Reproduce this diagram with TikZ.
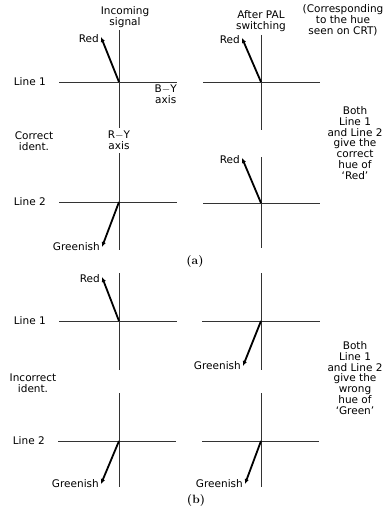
\documentclass[tikz,border=0pt]{standalone}
\usepackage{fontspec}
\newfontfamily\lblfont{DejaVu Sans}
\usepackage{tikz}
\usetikzlibrary{arrows.meta, positioning}

\tikzset{
  axis/.style={draw=black!80, line width=0.8pt},
  vec/.style={line width=1.8pt, -{Latex[length=5pt,width=4.5pt]}},
  lbl/.style={font=\lblfont\fontsize{10.5}{10.8}\selectfont, inner sep=1pt},
  note/.style={font=\lblfont\fontsize{10.5}{10.8}\selectfont, align=center, inner sep=0pt},
  part/.style={font=\bfseries\fontsize{12}{13}\selectfont, inner sep=0pt}
}

\begin{document}
\begin{tikzpicture}[x=1pt, y=-1pt]
  \useasboundingbox (0,0) rectangle (390,511);

  % (a) correct ident.
  \coordinate (a1o) at (119,82);
  \coordinate (a1t) at (119,30);  \coordinate (a1b) at (119,128);
  \coordinate (a1l) at (59,82);   \coordinate (a1r) at (177,82);
  \coordinate (a1v) at (101,37);
  \coordinate (a2o) at (119,202);
  \coordinate (a2t) at (119,153); \coordinate (a2b) at (119,250);
  \coordinate (a2l) at (59,202);  \coordinate (a2r) at (177,202);
  \coordinate (a2v) at (102,247);
  \coordinate (a3o) at (261,82);
  \coordinate (a3t) at (261,35);  \coordinate (a3b) at (261,130);
  \coordinate (a3l) at (203,82);  \coordinate (a3r) at (320,82);
  \coordinate (a3v) at (242,38);
  \coordinate (a4o) at (261,203);
  \coordinate (a4t) at (261,157); \coordinate (a4b) at (261,248);
  \coordinate (a4l) at (203,203); \coordinate (a4r) at (320,203);
  \coordinate (a4v) at (242,158);

  % (b) incorrect ident.
  \coordinate (b1o) at (119,321);
  \coordinate (b1t) at (119,273); \coordinate (b1b) at (119,370);
  \coordinate (b1l) at (59,321);  \coordinate (b1r) at (177,321);
  \coordinate (b1v) at (102,277);
  \coordinate (b2o) at (119,441);
  \coordinate (b2t) at (119,393); \coordinate (b2b) at (119,487);
  \coordinate (b2l) at (58,441);  \coordinate (b2r) at (176,441);
  \coordinate (b2v) at (101,484);
  \coordinate (b3o) at (261,321);
  \coordinate (b3t) at (261,273); \coordinate (b3b) at (261,370);
  \coordinate (b3l) at (202,321); \coordinate (b3r) at (320,321);
  \coordinate (b3v) at (243,366);
  \coordinate (b4o) at (261,441);
  \coordinate (b4t) at (261,393); \coordinate (b4b) at (261,487);
  \coordinate (b4l) at (202,441); \coordinate (b4r) at (319,441);
  \coordinate (b4v) at (245,484);

  % axes
  \draw[axis] (a1t) -- (a1b);  \draw[axis] (a1l) -- (a1r);
  \draw[axis] (a2t) -- (a2b);  \draw[axis] (a2l) -- (a2r);
  \draw[axis] (a3t) -- (a3b);  \draw[axis] (a3l) -- (a3r);
  \draw[axis] (a4t) -- (a4b);  \draw[axis] (a4l) -- (a4r);
  \draw[axis] (b1t) -- (b1b);  \draw[axis] (b1l) -- (b1r);
  \draw[axis] (b2t) -- (b2b);  \draw[axis] (b2l) -- (b2r);
  \draw[axis] (b3t) -- (b3b);  \draw[axis] (b3l) -- (b3r);
  \draw[axis] (b4t) -- (b4b);  \draw[axis] (b4l) -- (b4r);

  % phasors
  \draw[vec] (a1o) -- (a1v);
  \draw[vec] (a2o) -- (a2v);
  \draw[vec] (a3o) -- (a3v);
  \draw[vec] (a4o) -- (a4v);
  \draw[vec] (b1o) -- (b1v);
  \draw[vec] (b2o) -- (b2v);
  \draw[vec] (b3o) -- (b3v);
  \draw[vec] (b4o) -- (b4v);

  % phasor labels
  \node[lbl, left=1pt of a1v, yshift=-2pt] (a1n) {Red};
  \node[lbl, left=1pt of a2v] (a2n) {Greenish};
  \node[lbl, left=1pt of a3v, yshift=-2pt] (a3n) {Red};
  \node[lbl, left=1pt of a4v, yshift=-2pt] (a4n) {Red};
  \node[lbl, left=1pt of b1v, yshift=-2pt] (b1n) {Red};
  \node[lbl, left=1pt of b2v] (b2n) {Greenish};
  \node[lbl, left=1pt of b3v] (b3n) {Greenish};
  \node[lbl, left=1pt of b4v] (b4n) {Greenish};

  % line labels
  \node[lbl, left=12pt of a1l] (a1line) {Line 1};
  \node[lbl, left=12pt of a2l] (a2line) {Line 2};
  \node[lbl, left=12pt of b1l] (b1line) {Line 1};
  \node[lbl, left=12pt of b2l] (b2line) {Line 2};

  % axis names and headings
  \node[note, below left=3pt and 0pt of a1r] (bmy) {B$-$Y\\axis};
  \node[note, below=3pt of a1b] (rmy) {R$-$Y\\axis};
  \node[note, above=2pt of a1t, xshift=6pt] (incoming) {Incoming\\signal};
  \node[note, above=3pt of a3t] (afterpal) {After PAL\\switching};
  \node[note] (crt) at (343,20) {(Corresponding\\to the hue\\seen on CRT)};

  \node[note] (correct) at (34,141) {Correct\\ident.};
  \node[note] (incorrect) at (33,383) {Incorrect\\ident.};

  \node[note] (rightnote) at (355,143) {Both\\Line 1\\and Line 2\\give the\\correct\\hue of\\‘Red’};
  \node[note] (wrongnote) at (355,378) {Both\\Line 1\\and Line 2\\give the\\wrong\\hue of\\‘Green’};

  \node[part] (parta) at (195,262) {(a)};
  \node[part] (partb) at (196,500) {(b)};
\end{tikzpicture}
\end{document}
